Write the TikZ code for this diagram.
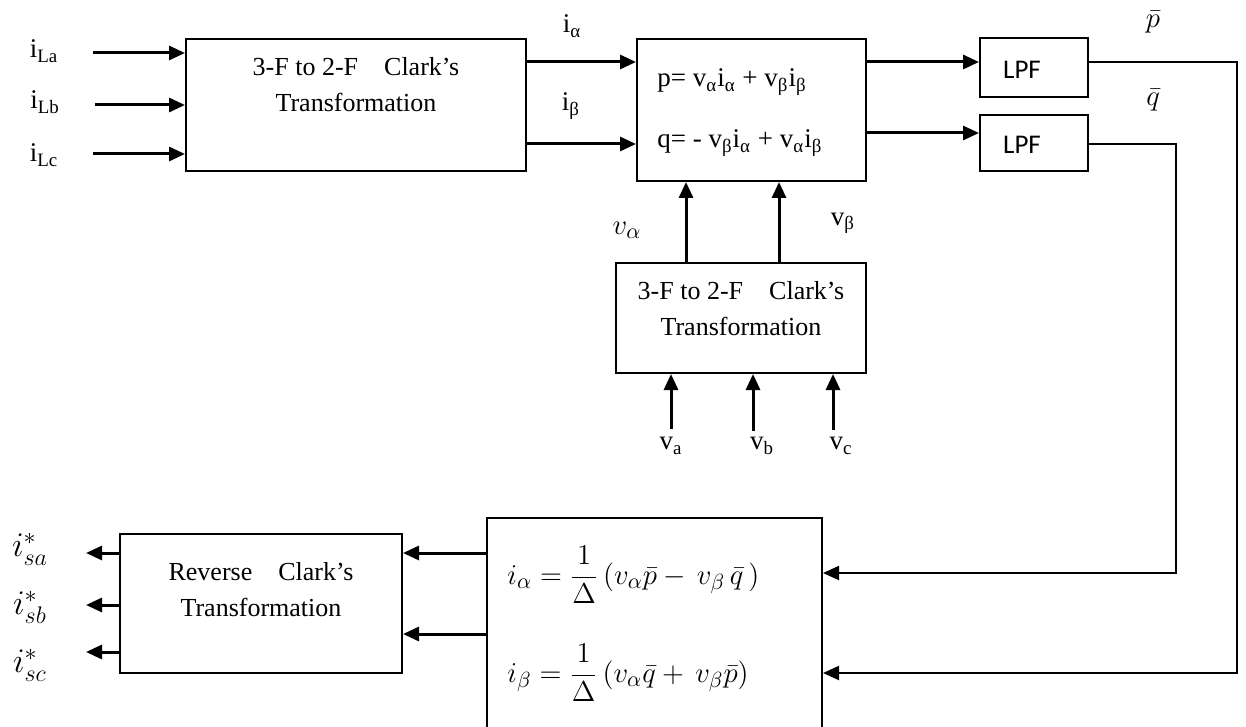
\documentclass[tikz,border=0pt]{standalone}
\usepackage{fontspec}
\setmainfont{Liberation Serif}
\newfontfamily\lpffont{Carlito}
\usetikzlibrary{arrows.meta}
\begin{document}
\begin{tikzpicture}[x=0.5pt,y=-0.5pt,
  box/.style={draw,line width=1pt,inner sep=0pt},
  arr/.style={line width=1.5pt,-{Triangle[length=8pt,width=7pt]}},
  fb/.style={line width=1pt,-{Triangle[length=8pt,width=7pt]}},
  lbl/.style={inner sep=0pt,font=\fontsize{13.5}{16}\selectfont},
  btxt/.style={inner sep=0pt,align=center,font=\fontsize{13}{18}\selectfont},
  lpft/.style={inner sep=0pt,font=\lpffont\fontsize{13.5}{16}\selectfont},
  mth/.style={inner sep=0pt,font=\fontsize{15}{18}\selectfont},
  mthb/.style={inner sep=0pt,font=\fontsize{16.5}{19}\selectfont},
  frm/.style={inner sep=0pt,anchor=west,font=\fontsize{15}{18}\selectfont}]
\useasboundingbox (0,0) rectangle (1246,727);
\clip (0,0) rectangle (1246,727);

% boxes
\node[box,minimum width=170pt,minimum height=66pt] (box1) at (356,105) {};
\node[box,minimum width=114.5pt,minimum height=71pt] (box2) at (751.5,110) {};
\node[box,minimum width=54pt,minimum height=29.5pt] (lpf1) at (1034,67.5) {};
\node[box,minimum width=54pt,minimum height=28pt] (lpf2) at (1034,143) {};
\node[box,minimum width=125pt,minimum height=55pt] (box3) at (741,318) {};
\node[box,minimum width=141pt,minimum height=69.5pt] (box4) at (261,603.5) {};
\node[box,minimum width=167.5pt,minimum height=131pt] (box5) at (654.5,649) {};

% box texts
\node[btxt] (t1) at (356,85) {3-F to 2-F\quad Clark’s\\Transformation};
\node[btxt] (t3) at (741,308.5) {3-F to 2-F\quad Clark’s\\Transformation};
\node[btxt] (t4) at (261,589.5) {Reverse\quad Clark’s\\Transformation};
\node[lbl,anchor=west] (peq) at (657,82) {p= v\textsubscript{α}i\textsubscript{α} + v\textsubscript{β}i\textsubscript{β}};
\node[lbl,anchor=west] (qeq) at (657,143) {q= - v\textsubscript{β}i\textsubscript{α} + v\textsubscript{α}i\textsubscript{β}};
\node[lpft] (l1) at (1022,70) {LPF};
\node[lpft] (l2) at (1022,145) {LPF};
\node[frm] (fa) at (507,575)
  {$\displaystyle i_\alpha = \frac{1}{\Delta}\,\bigl(v_\alpha\bar{p} - \,v_\beta\,\bar{q}\,\bigr)$};
\node[frm] (fb) at (507,673)
  {$\displaystyle i_\beta = \frac{1}{\Delta}\,\bigl(v_\alpha\bar{q} + \,v_\beta\bar{p}\bigr)$};

% labels
\node[lbl] (liLa) at (44,51) {i\textsubscript{La}};
\node[lbl] (liLb) at (45,102) {i\textsubscript{Lb}};
\node[lbl] (liLc) at (44,155) {i\textsubscript{Lc}};
\node[lbl] (lia) at (572,26) {i\textsubscript{α}};
\node[lbl] (lib) at (571,106) {i\textsubscript{β}};
\node[mth] (lpb) at (1153,22) {$\bar{p}$};
\node[mth] (lqb) at (1153,100) {$\bar{q}$};
\node[mth] (lva) at (627,230) {$v_\alpha$};
\node[lbl] (lvb) at (843,223) {v\textsubscript{β}};
\node[lbl] (lv1) at (671,446) {v\textsubscript{a}};
\node[lbl] (lv2) at (762,446) {v\textsubscript{b}};
\node[lbl] (lv3) at (841,446) {v\textsubscript{c}};
\node[mthb] (lo1) at (30,549) {$i^*_{sa}$};
\node[mthb] (lo2) at (30,607) {$i^*_{sb}$};
\node[mthb] (lo3) at (30,665) {$i^*_{sc}$};

% free ends
\coordinate (sLa) at (93,53);
\coordinate (sLb) at (95,105);
\coordinate (sLc) at (93,154);
\coordinate (sva) at (671,429);
\coordinate (svb) at (753,431);
\coordinate (svc) at (833,430);
\coordinate (c1) at (1237,673);
\coordinate (c2) at (1176,573);
\coordinate (o1) at (86,553);
\coordinate (o2) at (86,605);
\coordinate (o3) at (86,652);

% connectors
\draw[arr] (sLa) -- (box1.west |- sLa);
\draw[arr] (sLb) -- (box1.west |- sLb);
\draw[arr] (sLc) -- (box1.west |- sLc);
\draw[arr] (box1.east |- 0,62) -- (box2.west |- 0,62);
\draw[arr] (box1.east |- 0,144) -- (box2.west |- 0,144);
\draw[arr] (box2.east |- 0,62) -- (lpf1.west |- 0,62);
\draw[arr] (box2.east |- 0,133) -- (lpf2.west |- 0,133);
\draw[arr] (box3.north -| 686,0) -- (box2.south -| 686,0);
\draw[arr] (box3.north -| 779,0) -- (box2.south -| 779,0);
\draw[arr] (sva) -- (sva |- box3.south);
\draw[arr] (svb) -- (svb |- box3.south);
\draw[arr] (svc) -- (svc |- box3.south);
\draw[fb] (lpf1.east |- 0,62) -| (c1) -- (box5.east |- c1);
\draw[fb] (lpf2.east |- 0,144) -| (c2) -- (box5.east |- c2);
\draw[arr] (box5.west |- 0,553) -- (box4.east |- 0,553);
\draw[arr] (box5.west |- 0,634) -- (box4.east |- 0,634);
\draw[arr] (box4.west |- o1) -- (o1);
\draw[arr] (box4.west |- o2) -- (o2);
\draw[arr] (box4.west |- o3) -- (o3);
\end{tikzpicture}
\end{document}
